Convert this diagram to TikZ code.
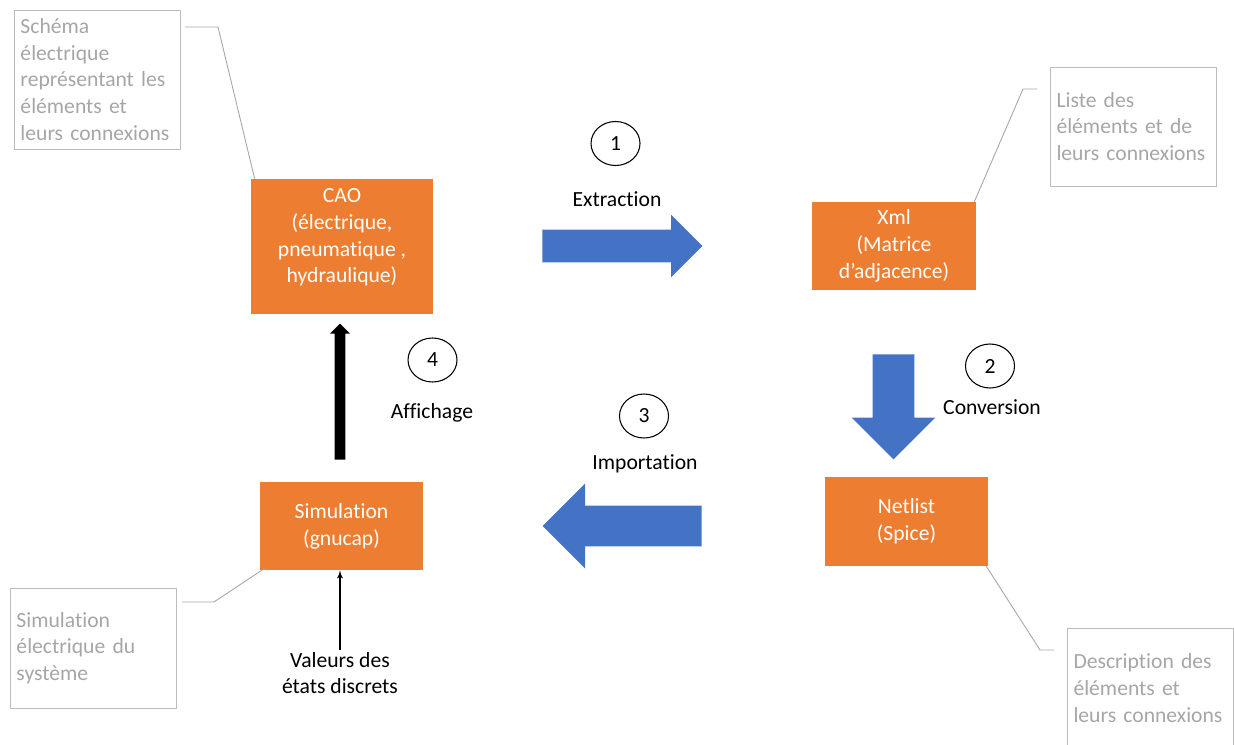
\documentclass[tikz,border=0pt]{standalone}
\usepackage{fontspec}
\setmainfont{Carlito}[Ligatures=NoCommon]
\usetikzlibrary{shapes}
\usetikzlibrary{arrows}
\definecolor{orng}{RGB}{237,125,49}
\definecolor{blu}{RGB}{68,114,196}
\definecolor{gry}{RGB}{166,166,166}

\begin{document}
\begin{tikzpicture}[font=\fontsize{12.3}{15.2}\selectfont]
\tikzset{box/.style = {shape=rectangle,fill=orng,text=white,align=center}}
\tikzset{note/.style = {shape=rectangle,draw=gry!75,text=gry,align=left,text width=3.06cm,inner xsep=0.13cm,minimum width=3.32cm}}
\tikzset{num/.style = {shape=ellipse,draw,line width=0.6pt,minimum width=0.98cm,minimum height=0.88cm,inner sep=0pt}}
\tikzset{bigarrow/.style = {shape=single arrow,fill=blu,inner xsep=0pt,anchor=tail,single arrow head indent=0pt}}
\tikzset{leader/.style = {draw=gry,line width=0.5pt}}
\tikzset{edge/.style = {->,> = latex'}}
\useasboundingbox (0,0) rectangle (24.68,14.88);

\node[box,minimum width=3.64cm,minimum height=2.7cm] (cao) at (6.84,9.95) {};
\node[text=white,align=center] (caotxt) at (6.84,10.13) {CAO\\(électrique,\\pneumatique ,\\hydraulique)};
\node[box,minimum width=3.28cm,minimum height=1.76cm] (xml) at (17.88,9.96) {Xml\\(Matrice\\d’adjacence)};
\node[box,minimum width=3.26cm,minimum height=1.78cm] (net) at (18.13,4.45) {Netlist\\(Spice)};
\node[box,minimum width=3.26cm,minimum height=1.76cm] (sim) at (6.83,4.36) {Simulation\\(gnucap)};

\node[note,minimum height=2.78cm] (schema) at (1.94,13.29) {Schéma\\électrique\\représentant les\\éléments et\\leurs connexions};
\node[note,minimum height=2.38cm] (liste) at (22.66,12.35) {Liste des\\éléments et de\\leurs connexions};
\node[note,minimum height=2.4cm] (simel) at (1.86,1.92) {Simulation\\électrique du\\système};
\node[note,minimum height=2.4cm] (descr) at (23.0,1.12) {Description des\\éléments et\\leurs connexions};

\node[bigarrow,minimum height=3.2cm,inner ysep=0.32cm,single arrow head extend=0.3cm] (extr) at (10.84,9.96) {};
\node[bigarrow,rotate=-90,minimum height=2.1cm,inner ysep=0.41cm,single arrow head extend=0.42cm] (conv) at (17.87,7.80) {};
\node[bigarrow,rotate=180,minimum height=3.18cm,inner ysep=0.40cm,single arrow head extend=0.44cm] (impo) at (14.04,4.36) {};
\node[bigarrow,fill=black,rotate=90,minimum height=2.72cm,inner ysep=0.1cm,single arrow head extend=0.09cm] (affi) at (6.80,5.68) {};

\node[num] (n1) at (12.31,12.01) {1};
\node[num] (n2) at (19.80,7.56) {2};
\node[num] (n3) at (12.88,6.56) {3};
\node[num] (n4) at (8.65,7.68) {4};

\node (lextr) at (12.34,10.90) {Extraction};
\node (lconv) at (19.84,6.74) {Conversion};
\node (limpo) at (12.90,5.60) {Importation};
\node (laffi) at (8.64,6.62) {Affichage};
\node[align=center,inner sep=1pt] (valeurs) at (6.80,1.42) {Valeurs des\\états discrets};

\coordinate (k1) at (3.70,14.34);
\coordinate (k2) at (4.36,14.34);
\coordinate (k3) at (20.74,13.10);
\coordinate (k4) at (20.46,13.10);
\coordinate (k5) at (3.64,2.84);
\coordinate (k6) at (4.28,2.84);
\coordinate (k7) at (20.80,1.88);
\coordinate (k8) at (21.08,1.88);

\draw[leader] (k1) -- (k2) -- ([xshift=0.08cm]cao.north west);
\draw[leader] (k3) -- (k4) -- ([xshift=-0.04cm]xml.north east);
\draw[leader] (k5) -- (k6) -- ([shift={(0.1,0.04)}]sim.south west);
\draw[leader] ([xshift=-0.04cm]net.south east) -- (k7) -- (k8);

\draw[edge, line width=0.6pt] (valeurs.north) to (valeurs.north |- sim.south);
\end{tikzpicture}
\end{document}
